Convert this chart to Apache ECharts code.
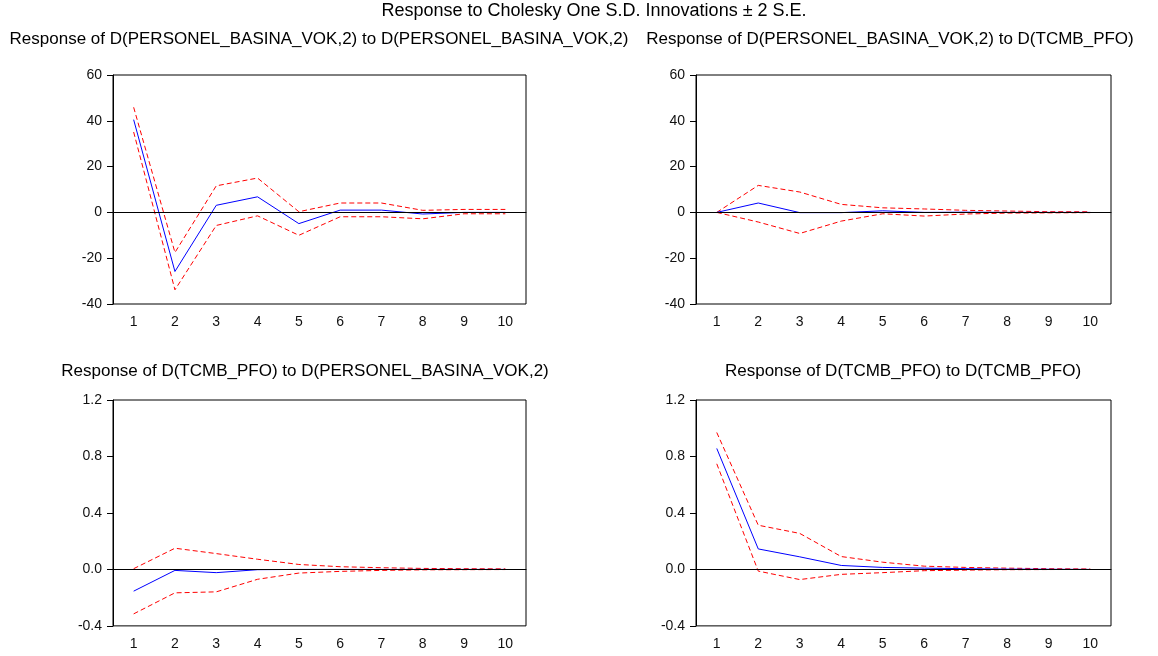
<html>
<head>
    <script src="https://cdn.jsdelivr.net/npm/echarts@6/dist/echarts.min.js"></script>
</head>
<body style="margin:0; background:#fff;">
    <div id="main"></div>
</body>
<script type="text/javascript">
    // periods after the shock
    var periods = ['1', '2', '3', '4', '5', '6', '7', '8', '9', '10'];

    // D(PERSONEL_BASINA_VOK,2) to D(PERSONEL_BASINA_VOK,2)
    var ppResp  = [40.5, -25.8, 3.1, 6.8, -4.9, 1.0, 1.0, -0.7, 0.0, 0.0];
    var ppUpper = [45.9, -17.5, 11.6, 15.0, 0.3, 4.1, 4.1, 0.9, 1.3, 1.3];
    var ppLower = [35.1, -33.8, -5.7, -1.5, -10.0, -1.9, -1.9, -2.8, -0.6, -0.6];

    // D(PERSONEL_BASINA_VOK,2) to D(TCMB_PFO)
    var ptResp  = [0.0, 4.1, -0.1, -0.1, 0.7, 0.0, 0.1, 0.0, 0.0, 0.0];
    var ptUpper = [0.0, 11.8, 8.9, 3.5, 2.0, 1.5, 0.9, 0.6, 0.3, 0.3];
    var ptLower = [0.0, -4.2, -9.2, -3.8, -0.6, -1.6, -0.7, -0.3, -0.2, -0.1];

    // D(TCMB_PFO) to D(PERSONEL_BASINA_VOK,2)
    var tpResp  = [-0.154, -0.007, -0.023, -0.002, 0.0, 0.0, 0.0, 0.0, 0.0, 0.0];
    var tpUpper = [0.005, 0.150, 0.112, 0.072, 0.035, 0.019, 0.012, 0.007, 0.005, 0.004];
    var tpLower = [-0.315, -0.166, -0.159, -0.070, -0.026, -0.014, -0.007, -0.003, -0.002, -0.001];

    // D(TCMB_PFO) to D(TCMB_PFO)
    var ttResp  = [0.857, 0.145, 0.089, 0.028, 0.014, 0.009, 0.005, 0.002, 0.001, 0.0];
    var ttUpper = [0.970, 0.313, 0.255, 0.091, 0.051, 0.023, 0.014, 0.009, 0.005, 0.003];
    var ttLower = [0.748, -0.012, -0.072, -0.035, -0.023, -0.009, -0.005, -0.002, -0.001, 0.0];

    var mainTitle = 'Response to Cholesky One S.D. Innovations \u00b1 2 S.E.';
    var panelTitles = [
        'Response of D(PERSONEL_BASINA_VOK,2) to D(PERSONEL_BASINA_VOK,2)',
        'Response of D(PERSONEL_BASINA_VOK,2) to D(TCMB_PFO)',
        'Response of D(TCMB_PFO) to D(PERSONEL_BASINA_VOK,2)',
        'Response of D(TCMB_PFO) to D(TCMB_PFO)'
    ];
    var panels = [
        { resp: ppResp, upper: ppUpper, lower: ppLower, min: -40, max: 60, step: 20, dec: 0 },
        { resp: ptResp, upper: ptUpper, lower: ptLower, min: -40, max: 60, step: 20, dec: 0 },
        { resp: tpResp, upper: tpUpper, lower: tpLower, min: -0.4, max: 1.2, step: 0.4, dec: 1 },
        { resp: ttResp, upper: ttUpper, lower: ttLower, min: -0.4, max: 1.2, step: 0.4, dec: 1 }
    ];

    var font = '"Liberation Sans", Arial, sans-serif';
    var grids = [
        { left: 113, top: 75, width: 413, height: 229 },
        { left: 696, top: 75, width: 415, height: 229 },
        { left: 113, top: 400, width: 413, height: 228 },
        { left: 696, top: 400, width: 415, height: 228 }
    ];
    var titlePos = [[319, 39], [890, 39], [305, 371], [903, 371]];

    var chartDom = document.getElementById('main');
    chartDom.style.width = '1158px';
    chartDom.style.height = '656px';
    var myChart = echarts.init(chartDom, null, { renderer: 'canvas' });

    var xAxes = [], yAxes = [], series = [], texts = [];
    grids.forEach(function (g, i) {
        g.show = true;
        g.borderColor = '#000';
        g.borderWidth = 1;
        g.backgroundColor = 'transparent';
        var p = panels[i];
        xAxes.push({
            type: 'category', gridIndex: i, data: periods, boundaryGap: true,
            axisLine: { lineStyle: { color: '#000', width: 1 } },
            axisTick: { length: 6, lineStyle: { color: '#000' } },
            axisLabel: { color: '#111', fontSize: 14, fontFamily: font, margin: 6 },
            splitLine: { show: false }
        });
        yAxes.push({
            type: 'value', gridIndex: i, min: p.min, max: p.max, interval: p.step,
            axisLine: { show: true, lineStyle: { color: '#000', width: 1 } },
            axisTick: { show: true, length: 6, lineStyle: { color: '#000' } },
            axisLabel: {
                color: '#111', fontSize: 14, fontFamily: font, margin: 11,
                formatter: function (v) { return v.toFixed(p.dec); }
            },
            splitLine: { show: false }
        });
        series.push({
            type: 'line', xAxisIndex: i, yAxisIndex: i, data: p.resp,
            showSymbol: false, lineStyle: { color: '#0000ff', width: 1 }, z: 3,
            markLine: {
                silent: true, symbol: 'none', label: { show: false },
                lineStyle: { color: '#000', width: 1, type: 'solid' },
                data: [{ yAxis: 0 }]
            }
        });
        [p.upper, p.lower].forEach(function (band) {
            series.push({
                type: 'line', xAxisIndex: i, yAxisIndex: i, data: band,
                showSymbol: false, lineStyle: { color: '#ff0000', width: 1, type: [5, 3] }, z: 2
            });
        });
        texts.push({
            type: 'text', x: titlePos[i][0], y: titlePos[i][1],
            style: { text: panelTitles[i], fill: '#000', font: '17px ' + font, textAlign: 'center', textVerticalAlign: 'middle' }
        });
    });
    texts.push({
        type: 'text', x: 594, y: 11,
        style: { text: mainTitle, fill: '#000', font: '18px ' + font, textAlign: 'center', textVerticalAlign: 'middle' }
    });

    var option = {
        animation: false,
        backgroundColor: '#fff',
        grid: grids,
        xAxis: xAxes,
        yAxis: yAxes,
        series: series,
        graphic: texts
    };
    myChart.setOption(option);
</script>
</html>
